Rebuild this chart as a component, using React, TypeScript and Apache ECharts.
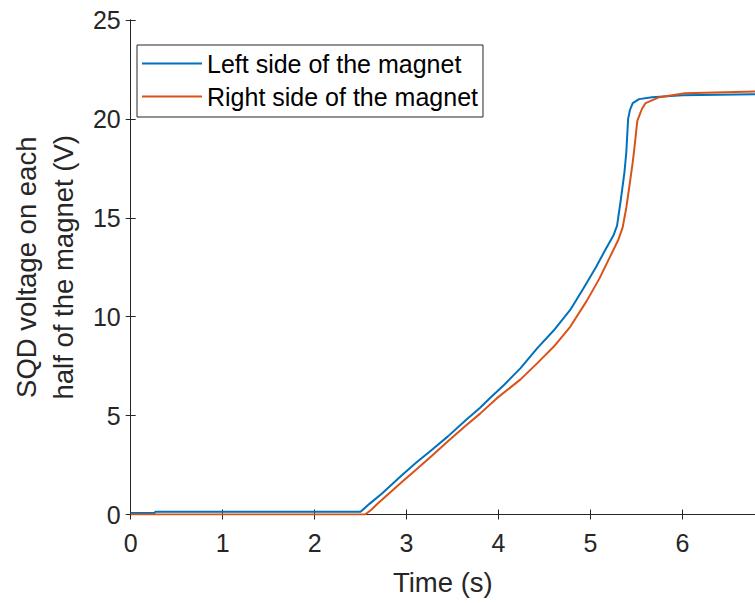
import React, { useEffect, useRef } from "react";
import * as echarts from "echarts";

const seriesNames = ["Left side of the magnet", "Right side of the magnet"];
const seriesColors = ["#0072BD", "#D95319"];

const leftSide: [number, number][] = [
  [0, 0.08], [0.26, 0.08], [0.27, 0.14], [2.5, 0.14], [2.6, 0.55], [2.73, 1.05],
  [2.94, 1.95], [3.1, 2.6], [3.27, 3.25], [3.45, 3.95], [3.64, 4.75], [3.8, 5.4],
  [3.9, 5.85], [4.06, 6.55], [4.24, 7.4], [4.42, 8.4], [4.6, 9.3], [4.78, 10.34],
  [4.92, 11.4], [5.06, 12.5], [5.17, 13.45], [5.25, 14.1], [5.29, 14.6], [5.33, 15.9],
  [5.37, 17.3], [5.39, 18.3], [5.41, 20.0], [5.43, 20.45], [5.46, 20.8], [5.53, 21.0],
  [5.67, 21.1], [6.0, 21.2], [6.79, 21.25],
];

const rightSide: [number, number][] = [
  [0, 0], [2.55, 0], [2.62, 0.25], [2.69, 0.57], [2.94, 1.6], [3.1, 2.25],
  [3.27, 2.95], [3.45, 3.7], [3.64, 4.47], [3.8, 5.1], [3.98, 5.87], [4.24, 6.83],
  [4.42, 7.64], [4.6, 8.48], [4.78, 9.49], [4.96, 10.8], [5.1, 11.95], [5.21, 13.0],
  [5.3, 13.85], [5.35, 14.5], [5.39, 15.5], [5.43, 16.8], [5.46, 17.8], [5.48, 18.6],
  [5.51, 19.9], [5.56, 20.5], [5.6, 20.8], [5.75, 21.1], [6.03, 21.3], [6.79, 21.38],
];

const xLabel = "Time (s)";
const yLabel = "SQD voltage on each\nhalf of the magnet (V)";

const FONT = "'Liberation Sans', Arial, Helvetica, sans-serif";
const AX = "#262626";

export default function App() {
  const ref = useRef<HTMLDivElement>(null);
  useEffect(() => {
    if (!ref.current) return;
    const chart = echarts.init(ref.current, undefined, { renderer: "svg" });
    const tick = { show: true, inside: true, length: 5, lineStyle: { color: AX, width: 1 } };
    const xBase = {
      type: "value" as const,
      min: 0,
      max: 6.79,
      interval: 1,
      splitLine: { show: false },
      axisLine: { show: true, lineStyle: { color: AX, width: 1 } },
      axisTick: tick,
    };
    const yBase = {
      type: "value" as const,
      min: 0,
      max: 25,
      interval: 5,
      splitLine: { show: false },
      axisLine: { show: true, lineStyle: { color: AX, width: 1 } },
      axisTick: tick,
    };
    chart.setOption({
      animation: false,
      textStyle: { fontFamily: FONT },
      grid: { left: 127, top: 20, width: 630, height: 494.5, containLabel: false },
      legend: {
        left: 137,
        top: 45,
        orient: "vertical",
        icon: "rect",
        itemWidth: 60,
        itemHeight: 2,
        itemGap: 8,
        padding: [6, 5, 8, 5],
        borderColor: AX,
        borderWidth: 1,
        backgroundColor: "#fff",
        textStyle: { fontSize: 25, color: "#000", fontFamily: FONT, lineHeight: 25 },
        data: seriesNames,
      },
      xAxis: [
        {
          ...xBase,
          position: "bottom",
          axisLabel: { fontSize: 25, color: AX, margin: 16, fontFamily: FONT, showMaxLabel: false },
          name: xLabel,
          nameLocation: "middle",
          nameGap: 54,
          nameTextStyle: { fontSize: 27.5, color: AX, fontFamily: FONT },
        },
        { ...xBase, position: "top", axisLabel: { show: false } },
      ],
      yAxis: [
        {
          ...yBase,
          position: "left",
          axisLabel: { fontSize: 25, color: AX, margin: 10, fontFamily: FONT },
          name: yLabel,
          nameLocation: "middle",
          nameRotate: 90,
          nameGap: 46,
          nameTextStyle: { fontSize: 27.5, color: AX, fontFamily: FONT, lineHeight: 37 },
        },
        { ...yBase, position: "right", axisLabel: { show: false } },
      ],
      series: [
        {
          name: seriesNames[0],
          type: "line",
          data: leftSide,
          showSymbol: false,
          color: seriesColors[0],
          lineStyle: { width: 2, color: seriesColors[0] },
          xAxisIndex: 0,
          yAxisIndex: 0,
        },
        {
          name: seriesNames[1],
          type: "line",
          data: rightSide,
          showSymbol: false,
          color: seriesColors[1],
          lineStyle: { width: 2, color: seriesColors[1] },
          xAxisIndex: 0,
          yAxisIndex: 0,
        },
      ],
    });
    return () => chart.dispose();
  }, []);
  return (
    <div
      ref={ref}
      style={{ position: "fixed", left: 0, top: 0, width: 755, height: 603, background: "#fff" }}
    />
  );
}
